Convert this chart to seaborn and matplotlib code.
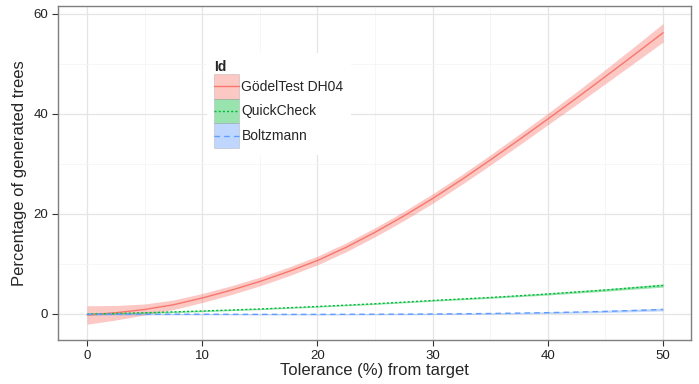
import numpy as np
import pandas as pd
import matplotlib
matplotlib.use("Agg")
import matplotlib.pyplot as plt
import seaborn as sns
from matplotlib.patches import Patch
from matplotlib.lines import Line2D
from matplotlib.legend_handler import HandlerLine2D
from matplotlib.ticker import MultipleLocator

# tolerans i procent, avläst var 2.5:e enhet
tolerance = [0, 2.5, 5, 7.5, 10, 12.5, 15, 17.5, 20, 22.5, 25,
             27.5, 30, 32.5, 35, 37.5, 40, 42.5, 45, 47.5, 50]

godel = [-0.2, 0.25, 0.9, 1.85, 3.2, 4.75, 6.5, 8.5, 10.7, 13.35, 16.35,
         19.6, 23.1, 26.85, 30.8, 34.85, 39.0, 43.2, 47.5, 51.85, 56.25]
godel_halv = [1.85, 1.45, 1.1, 0.95, 0.9, 0.88, 0.87, 0.87, 0.87, 0.88, 0.9,
              0.92, 0.95, 0.98, 1.02, 1.08, 1.15, 1.27, 1.42, 1.62, 1.85]

quick = [0.0, 0.1, 0.25, 0.42, 0.6, 0.8, 1.0, 1.25, 1.5, 1.77, 2.05,
         2.37, 2.7, 3.0, 3.3, 3.65, 4.0, 4.4, 4.8, 5.25, 5.7]
quick_halv = [0.2, 0.17, 0.15, 0.14, 0.13, 0.13, 0.13, 0.13, 0.13, 0.13, 0.14,
              0.14, 0.15, 0.16, 0.17, 0.18, 0.2, 0.22, 0.25, 0.28, 0.32]

boltz = [-0.05, -0.05, -0.05, -0.05, -0.06, -0.07, -0.08, -0.08, -0.08, -0.07, -0.05,
         -0.03, 0.0, 0.04, 0.1, 0.18, 0.27, 0.38, 0.52, 0.7, 0.9]
boltz_halv = [0.15, 0.13, 0.12, 0.11, 0.1, 0.1, 0.1, 0.1, 0.1, 0.1, 0.1,
              0.11, 0.12, 0.13, 0.14, 0.15, 0.17, 0.19, 0.22, 0.25, 0.28]

ids = ["GödelTest DH04", "QuickCheck", "Boltzmann"]
farger = ["#F8766D", "#00BA38", "#619CFF"]
stilar = ["-", (0, (1.5, 1.5)), (0, (4, 3))]

n = len(tolerance)
df = pd.DataFrame({
    "Tolerance": tolerance * 3,
    "Percent": godel + quick + boltz,
    "Id": [ids[0]] * n + [ids[1]] * n + [ids[2]] * n,
})
varden = [godel, quick, boltz]
halvor = [godel_halv, quick_halv, boltz_halv]


# linjen ska ligga mitt i legendrutan
class MittLinje(HandlerLine2D):
    def create_artists(self, legend, orig_handle, xdescent, ydescent, width, height, fontsize, trans):
        artists = super().create_artists(legend, orig_handle, xdescent, ydescent,
                                         width, height, fontsize, trans)
        for a in artists:
            a.set_ydata([height / 2 - ydescent] * len(a.get_ydata()))
        return artists


sns.set_theme(style="white")
plt.rcParams["font.family"] = ["Liberation Sans", "DejaVu Sans"]

fig = plt.figure(figsize=(6.99, 3.84), dpi=100)
ax = fig.add_axes([0.083, 0.1146, 0.9057, 0.8698])

# konfidensband
for i in range(3):
    lo = np.array(varden[i]) - np.array(halvor[i])
    hi = np.array(varden[i]) + np.array(halvor[i])
    ax.fill_between(tolerance, lo, hi, color=farger[i], alpha=0.4, lw=0, zorder=2)

sns.lineplot(data=df, x="Tolerance", y="Percent", hue="Id", palette=farger,
             ax=ax, legend=False, lw=1.0, zorder=3)
for line, ls in zip(ax.get_lines(), stilar):
    line.set_linestyle(ls)

ax.set_xlim(-2.52, 52.43)
ax.set_ylim(-5.2, 61.6)
ax.xaxis.set_major_locator(MultipleLocator(10))
ax.xaxis.set_minor_locator(MultipleLocator(5))
ax.yaxis.set_major_locator(MultipleLocator(20))
ax.yaxis.set_minor_locator(MultipleLocator(10))
ax.grid(which="major", color="#e5e5e5", lw=0.9, zorder=0)
ax.grid(which="minor", color="#f5f5f5", lw=0.6, zorder=0)
ax.set_axisbelow(True)
for s in ax.spines.values():
    s.set_color("#7f7f7f")
    s.set_linewidth(1.0)
ax.tick_params(which="major", length=4, width=0.8, color="#333333", labelsize=9.5,
               labelcolor="#222222", bottom=True, left=True, pad=3)
ax.tick_params(which="minor", length=0)

ax.set_xlabel("Tolerance (%) from target", fontsize=12, labelpad=1)
ax.set_ylabel("Percentage of generated trees", fontsize=12, labelpad=5)

# legend med band + linje i varje ruta
handles = []
for i in range(3):
    p = Patch(facecolor=farger[i], alpha=0.4, edgecolor="#999999", lw=0.6)
    l = Line2D([], [], color=farger[i], linestyle=stilar[i], lw=1.0)
    handles.append((p, l))
leg = ax.legend(handles, ids, title="Id", loc="upper left", bbox_to_anchor=(0.2354, 0.859),
                frameon=True, fancybox=False, edgecolor="none", framealpha=1.0, fontsize=10,
                handlelength=1.78, handleheight=2.36, labelspacing=0.0, handletextpad=0.2,
                borderpad=0.5, borderaxespad=0.0, handler_map={Line2D: MittLinje()})
leg.get_title().set_fontweight("bold")
leg.get_title().set_fontsize(10)
leg._legend_box.align = "left"
leg.set_zorder(5)

plt.savefig("out.png", dpi=100)
